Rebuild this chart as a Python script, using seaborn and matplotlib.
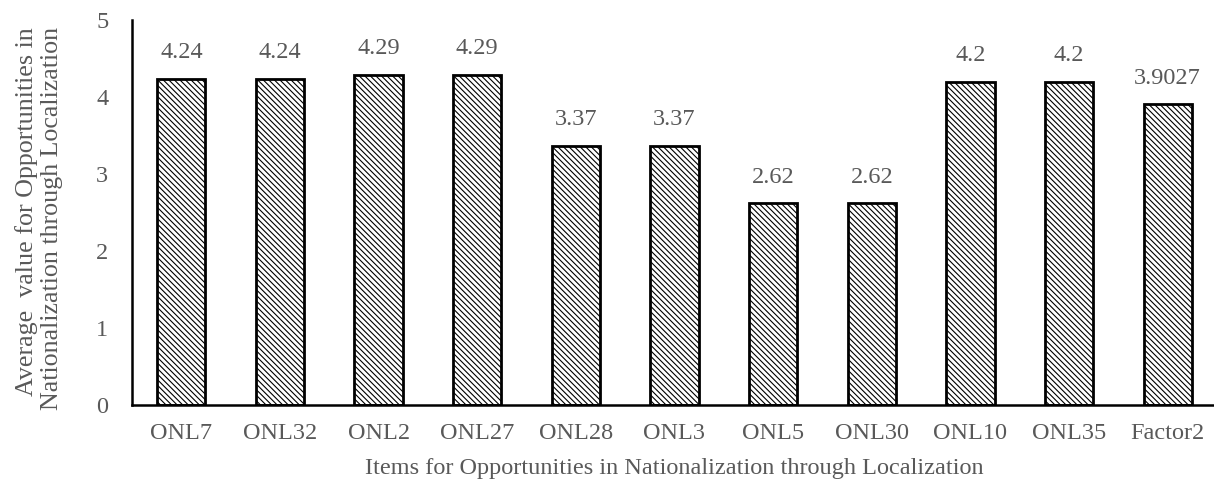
import matplotlib
matplotlib.use("Agg")
import matplotlib.pyplot as plt
import seaborn as sns
import pandas as pd

items = ["ONL7", "ONL32", "ONL2", "ONL27", "ONL28", "ONL3", "ONL5", "ONL30", "ONL10", "ONL35", "Factor2"]
values = [4.24, 4.24, 4.29, 4.29, 3.37, 3.37, 2.62, 2.62, 4.2, 4.2, 3.9027]
value_labels = ["4.24", "4.24", "4.29", "4.29", "3.37", "3.37", "2.62", "2.62", "4.2", "4.2", "3.9027"]

sns.set_theme(style="white")
plt.rcParams["font.family"] = ["Liberation Serif", "DejaVu Serif"]
plt.rcParams["hatch.color"] = "#8a8a8a"
plt.rcParams["hatch.linewidth"] = 0.8

text_color = "#595959"
df = pd.DataFrame({"item": items, "value": values})

W, H = 1214, 488
fig = plt.figure(figsize=(W / 100, H / 100), dpi=100)
ax = fig.add_axes([132 / W, 1 - 405 / H, 1085 / W, 385 / H])

sns.barplot(data=df, x="item", y="value", ax=ax, color="white", width=0.49,
            edgecolor="black", linewidth=2, hatch="\\\\\\\\\\\\", saturation=1)

for i, (v, lab) in enumerate(zip(values, value_labels)):
    ax.text(i, v + 0.2, lab, ha="center", va="bottom", fontsize=17.5, color=text_color)

ax.set_xlim(-0.5, 10.5)
ax.set_ylim(0, 5)
ax.set_yticks([0, 1, 2, 3, 4, 5])
ax.tick_params(axis="both", length=0, labelsize=17.5, labelcolor=text_color)
ax.tick_params(axis="x", pad=13)
ax.tick_params(axis="y", pad=17)

for side in ["top", "right"]:
    ax.spines[side].set_visible(False)
for side in ["left", "bottom"]:
    ax.spines[side].set_color("black")
    ax.spines[side].set_linewidth(1.8)

ax.set_xlabel("Items for Opportunities in Nationalization through Localization",
              fontsize=17.5, color=text_color, labelpad=10)
ax.set_ylabel("")

# Two-line axis title, ends of both lines aligned at the top
fig.text(39 / W, 1 - 27 / H,
         "Average  value for Opportunities in\nNationalization through Localization",
         rotation=90, ha="center", va="top", multialignment="right",
         fontsize=18.7, color=text_color, linespacing=1.15)

fig.savefig("out.png", dpi=100)
